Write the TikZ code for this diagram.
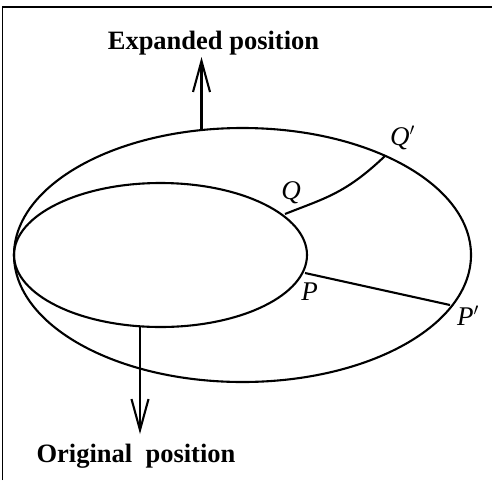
\documentclass[tikz,border=0pt]{standalone}
\usepackage{fontspec}
\setmainfont{Liberation Serif}
\usetikzlibrary{arrows.meta}
\tikzset{
  curve/.style={line width=2.1pt},
  pointer/.style={line width=2.5pt,-{Straight Barb[length=31pt,width=17pt,line width=2.1pt]}},
  heading/.style={font=\bfseries\fontsize{26.5}{30}\selectfont,inner sep=0pt,anchor=base},
  pointname/.style={font=\itshape\fontsize{27}{30}\selectfont,inner sep=0pt,anchor=base}
}
\begin{document}
\begin{tikzpicture}[x=1pt,y=-1pt]
\useasboundingbox (0,0) rectangle (492,480);
\draw[line width=1.6pt] (2.5,480) -- (2.5,6.8) -- (492,6.8);
\draw[curve] (242.5,255) ellipse [x radius=228.5,y radius=127];
\draw[curve] (160.5,255) ellipse [x radius=146.5,y radius=72];
\coordinate (Qa) at (285,214);
\coordinate (Qb) at (385,156);
\coordinate (Pa) at (305,273);
\coordinate (Pb) at (450,305);
\draw[curve] (Qa) .. controls (325,198) and (345,194) .. (Qb);
\draw[curve] (Pa) -- (Pb);
\coordinate (Ua) at (201.5,130);
\coordinate (Ub) at (201.5,57);
\coordinate (Da) at (140,327);
\coordinate (Db) at (140,434);
\draw[pointer] (Ua) -- (Ub);
\draw[pointer] (Da) -- (Db);
\node[heading] (exp) at (213.5,49.5) {Expanded position};
\node[heading] (orig) at (136,462) {Original~ position};
\node[pointname] (q) at (291,199) {Q};
\node[pointname] (qp) at (402.5,145) {Q$'$};
\node[pointname] (p) at (309.5,300) {P};
\node[pointname] (pp) at (468,325) {P$'$};
\end{tikzpicture}
\end{document}
